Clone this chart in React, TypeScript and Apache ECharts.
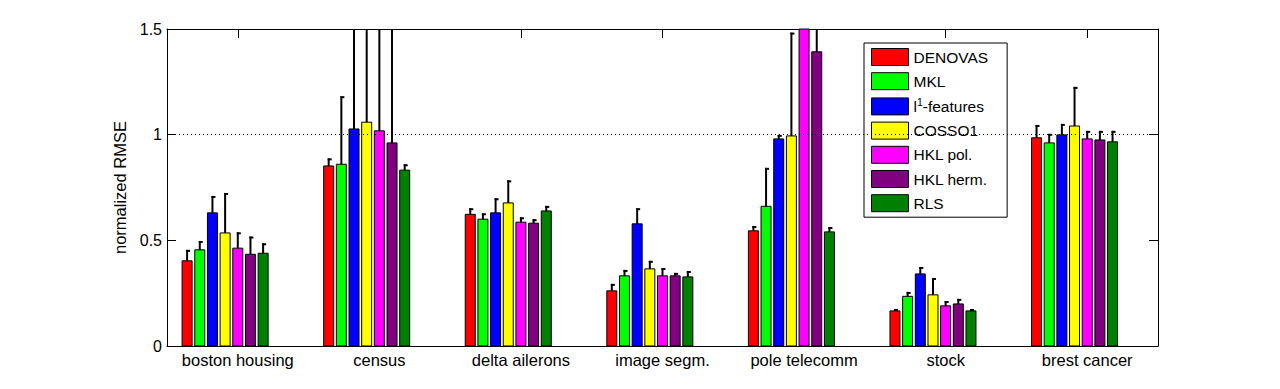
import React, { useEffect, useRef } from "react";
import * as echarts from "echarts";

const categories = ["boston housing", "census", "delta ailerons", "image segm.", "pole telecomm", "stock", "brest cancer"];
const methods = ["DENOVAS", "MKL", "l1-features", "COSSO1", "HKL pol.", "HKL herm.", "RLS"];
const colors = ["#ff0000", "#00ff00", "#0000ff", "#ffff00", "#ff00ff", "#800080", "#008000"];

// mean normalized RMSE per method (one value per category)
const denovasMean = [0.403, 0.852, 0.623, 0.261, 0.545, 0.166, 0.985];
const mklMean = [0.455, 0.86, 0.6, 0.332, 0.661, 0.235, 0.961];
const l1Mean = [0.63, 1.027, 0.63, 0.578, 0.98, 0.341, 0.999];
const cossoMean = [0.535, 1.059, 0.677, 0.365, 0.994, 0.242, 1.041];
const hklPolMean = [0.463, 1.018, 0.586, 0.332, 1.62, 0.19, 0.98];
const hklHermMean = [0.434, 0.961, 0.581, 0.332, 1.392, 0.199, 0.975];
const rlsMean = [0.439, 0.832, 0.639, 0.327, 0.54, 0.166, 0.966];

// upper error (std) per method
const denovasErr = [0.052, 0.036, 0.029, 0.033, 0.023, 0.009, 0.061];
const mklErr = [0.042, 0.322, 0.028, 0.028, 0.182, 0.021, 0.043];
const l1Err = [0.08, 0.6, 0.069, 0.074, 0.019, 0.033, 0.052];
const cossoErr = [0.189, 0.65, 0.107, 0.038, 0.489, 0.08, 0.185];
const hklPolErr = [0.075, 0.7, 0.023, 0.037, 0.4, 0.023, 0.038];
const hklHermErr = [0.084, 0.6, 0.019, 0.014, 0.3, 0.024, 0.043];
const rlsErr = [0.047, 0.028, 0.024, 0.028, 0.023, 0.009, 0.052];

const means = [denovasMean, mklMean, l1Mean, cossoMean, hklPolMean, hklHermMean, rlsMean];
const errs = [denovasErr, mklErr, l1Err, cossoErr, hklPolErr, hklHermErr, rlsErr];

const yTicks = [0, 0.5, 1, 1.5];
const refLine = 1;

const Y_MIN = yTicks[0];
const Y_MAX = yTicks[yTicks.length - 1];
const PITCH = 12.67;
const BAR_W = 10;
const FONT = "'Liberation Sans', Arial, Helvetica, sans-serif";

export default function App() {
  const ref = useRef<HTMLDivElement>(null);
  useEffect(() => {
    if (!ref.current) return;
    const chart = echarts.init(ref.current, null, { renderer: "svg" });

    const series: any[] = methods.map((name, slot) => ({
      type: "custom",
      name,
      xAxisIndex: 0,
      yAxisIndex: 0,
      itemStyle: { color: colors[slot], borderColor: "#000", borderWidth: 1 },
      encode: { x: 0, y: 1 },
      data: categories.map((_, i) => [i, means[slot][i], errs[slot][i]]),
      renderItem: (params: any, api: any) => {
        const ci = api.value(0);
        const v = api.value(1);
        const e = api.value(2);
        const base = api.coord([ci, 0]);
        const topLimit = api.coord([ci, Y_MAX])[1];
        const yv = Math.max(api.coord([ci, v])[1], topLimit);
        const yeRaw = api.coord([ci, v + e])[1];
        const ye = Math.max(yeRaw, topLimit);
        const cx = base[0] + (slot - 4) * PITCH;
        const children: any[] = [
          {
            type: "rect",
            shape: { x: cx - BAR_W / 2, y: yv, width: BAR_W, height: base[1] - yv },
            style: { fill: colors[slot], stroke: "#000", lineWidth: 1 },
          },
          {
            type: "line",
            shape: { x1: cx, y1: yv, x2: cx, y2: ye },
            style: { stroke: "#000", lineWidth: 2 },
          },
        ];
        if (yeRaw > topLimit) {
          children.push({
            type: "line",
            shape: { x1: cx - 1, y1: ye + 1, x2: cx + 3, y2: ye + 1 },
            style: { stroke: "#000", lineWidth: 2 },
          });
        }
        return { type: "group", children };
      },
    }));

    series.push({
      type: "line",
      name: "ref",
      data: [],
      z: 10,
      markLine: {
        silent: true,
        symbol: "none",
        label: { show: false },
        lineStyle: { color: "#000", type: [1, 3], width: 1 },
        data: [{ yAxis: refLine }],
      },
    });

    const tickStyle = { show: true, inside: true, length: 9, lineStyle: { color: "#000", width: 1 } };
    const lineStyle = { show: true, onZero: false, lineStyle: { color: "#000", width: 1 } };

    chart.setOption({
      animation: false,
      textStyle: { fontFamily: FONT },
      grid: { left: 167, right: 122, top: 29, bottom: 43 },
      legend: {
        data: methods,
        orient: "vertical",
        left: 864,
        top: 43,
        padding: [5, 19, 5, 7],
        itemWidth: 37,
        itemHeight: 17,
        itemGap: 6.2,
        icon: "rect",
        borderColor: "#000",
        borderWidth: 1,
        backgroundColor: "#fff",
        itemStyle: { borderColor: "#000", borderWidth: 1 },
        formatter: (name: string) => (name === "l1-features" ? "{n|l}{s|1}{n|-features}" : name),
        textStyle: {
          fontSize: 15.5,
          color: "#000",
          fontFamily: FONT,
          rich: {
            n: { fontSize: 15.5, color: "#000", fontFamily: FONT },
            s: { fontSize: 10.5, color: "#000", fontFamily: FONT, padding: [0, 0, 9, 0] },
          },
        },
      },
      xAxis: [
        {
          type: "category",
          data: categories,
          position: "bottom",
          axisLine: lineStyle,
          axisTick: { ...tickStyle, alignWithLabel: true, interval: 0 },
          axisLabel: { interval: 0, fontSize: 16.5, color: "#000", margin: 5, fontFamily: FONT },
          splitLine: { show: false },
        },
        {
          type: "category",
          data: categories,
          position: "top",
          axisLine: lineStyle,
          axisTick: { ...tickStyle, alignWithLabel: true, interval: 0 },
          axisLabel: { show: false },
          splitLine: { show: false },
        },
      ],
      yAxis: [
        {
          type: "value",
          min: Y_MIN,
          max: Y_MAX,
          interval: 0.5,
          name: "normalized RMSE",
          nameLocation: "middle",
          nameGap: 36,
          nameTextStyle: { fontSize: 16.5, color: "#000", fontFamily: FONT },
          axisLine: lineStyle,
          axisTick: tickStyle,
          axisLabel: { fontSize: 16, color: "#000", margin: 5, fontFamily: FONT },
          splitLine: { show: false },
        },
        {
          type: "value",
          min: Y_MIN,
          max: Y_MAX,
          interval: 0.5,
          position: "right",
          axisLine: lineStyle,
          axisTick: tickStyle,
          axisLabel: { show: false },
          splitLine: { show: false },
        },
      ],
      series,
    });
    return () => chart.dispose();
  }, []);
  return <div ref={ref} style={{ position: "fixed", left: 0, top: 0, width: 1280, height: 389, background: "#fff" }} />;
}
